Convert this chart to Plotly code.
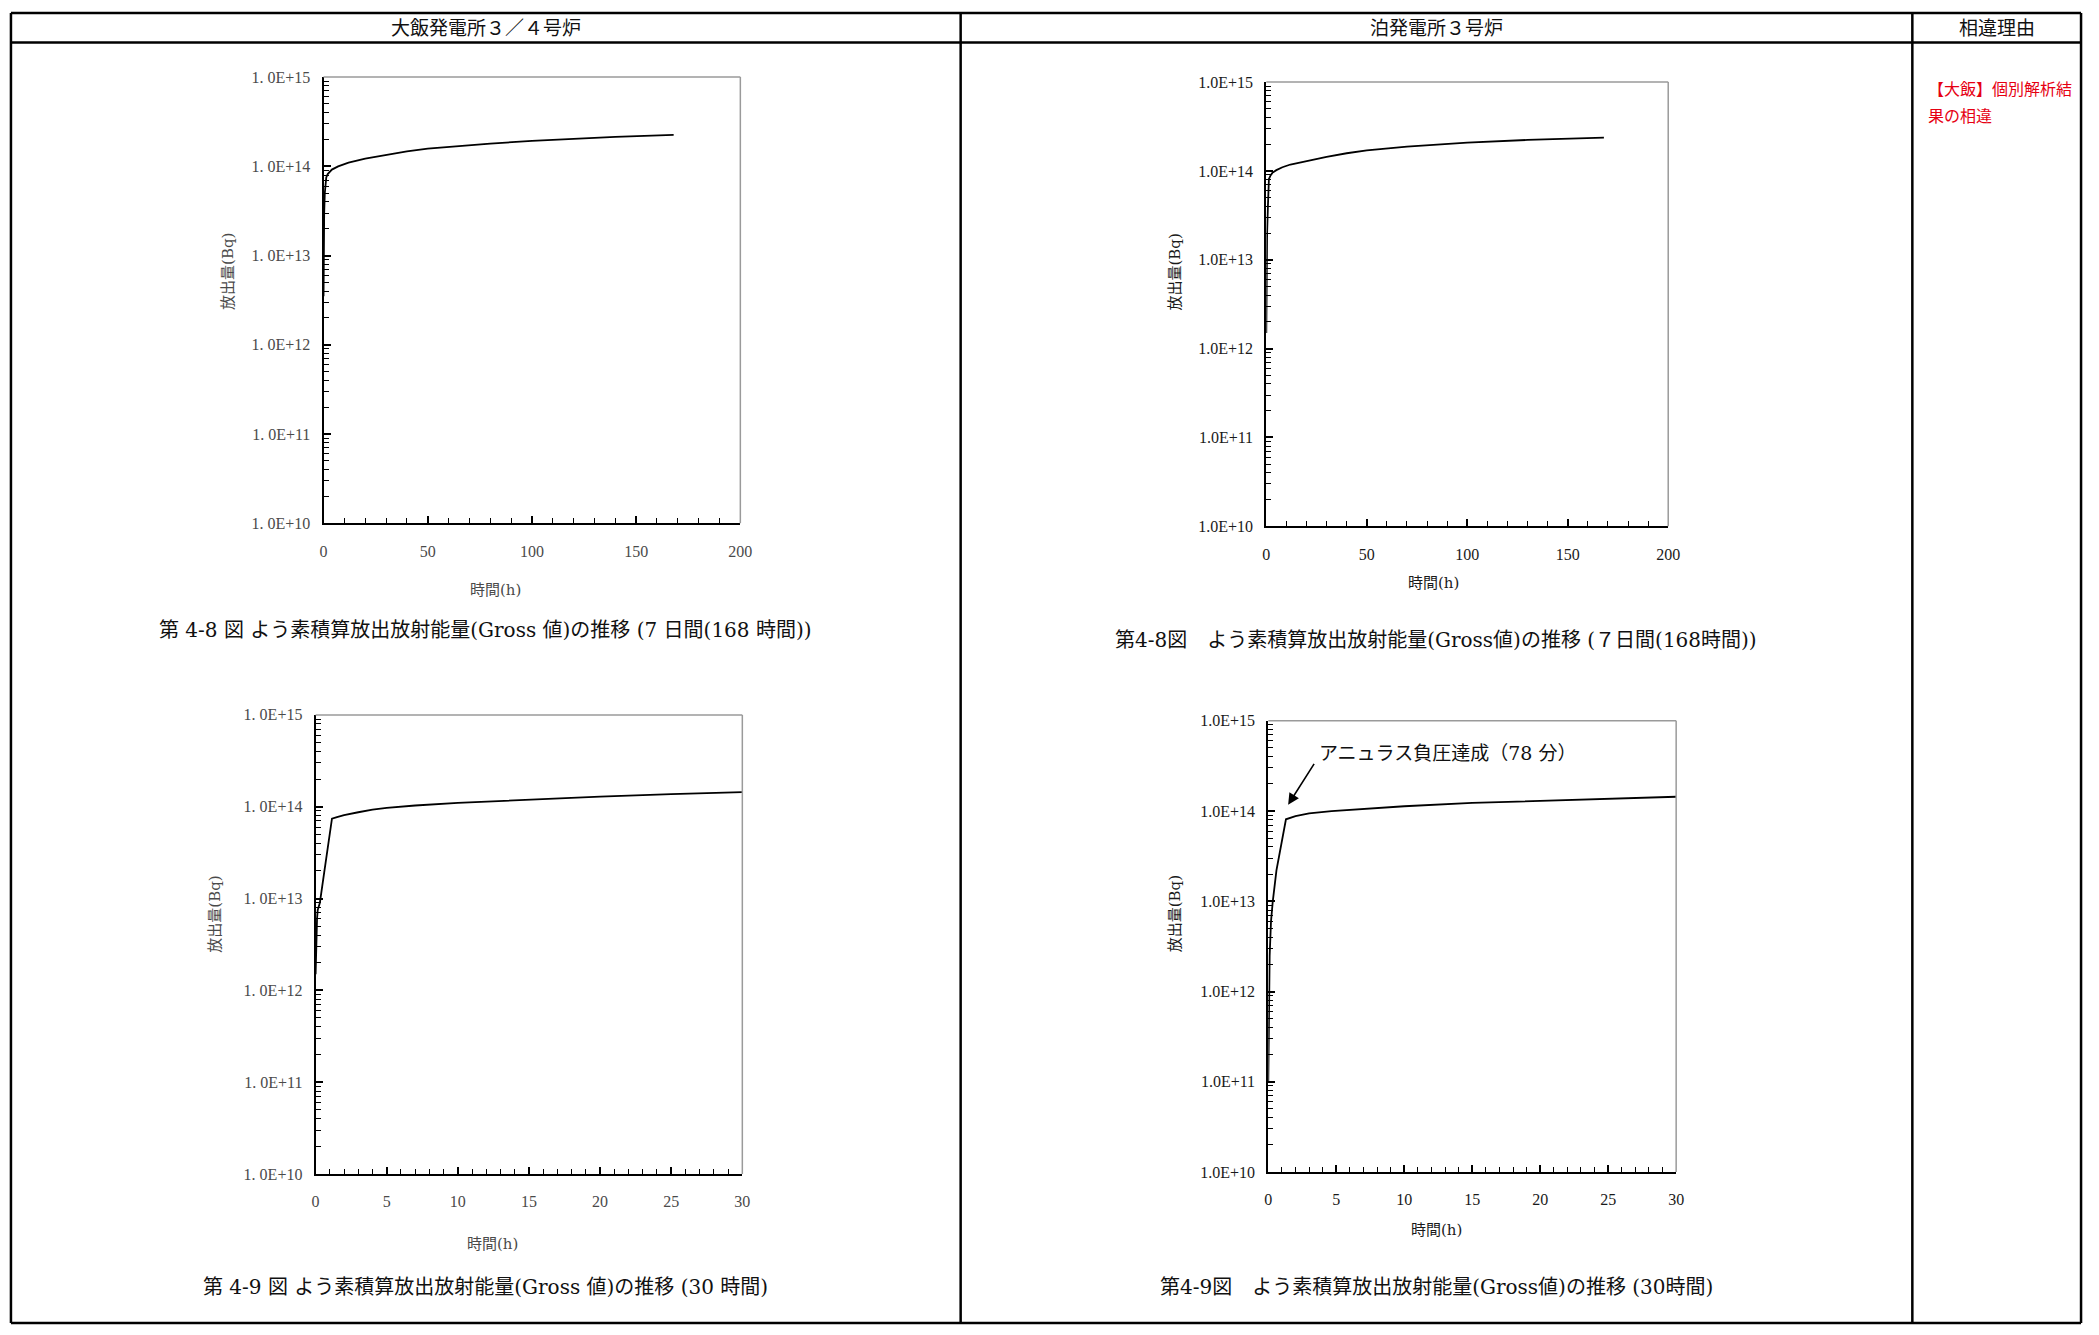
import plotly.graph_objects as go

W, H = 2099, 1335

# 大飯 3/4号炉 - 168時間
t_ohi_168 = [0, 0.05, 0.1, 0.3, 0.6, 1.0, 1.3, 2, 4, 7, 12, 20, 30, 40, 50, 65, 80, 100, 120, 140, 168]
q_ohi_168 = [3.5e12, 8e12, 1.5e13, 3e13, 5e13, 6.8e13, 7.5e13, 8.2e13, 9.2e13, 1.0e14, 1.1e14, 1.22e14,
             1.35e14, 1.47e14, 1.58e14, 1.7e14, 1.8e14, 1.93e14, 2.04e14, 2.14e14, 2.25e14]

# 泊 3号炉 - 168時間
t_tomari_168 = [0, 0.1, 0.2, 0.4, 0.8, 1.3, 2, 3, 5, 8, 12, 20, 30, 40, 50, 70, 100, 130, 168]
q_tomari_168 = [1.5e12, 4e12, 1e13, 2e13, 4e13, 8.1e13, 8.8e13, 9.5e13, 1.02e14, 1.1e14, 1.18e14, 1.3e14,
                1.44e14, 1.58e14, 1.7e14, 1.88e14, 2.08e14, 2.23e14, 2.37e14]

# 大飯 3/4号炉 - 30時間
t_ohi_30 = [0, 0.05, 0.1, 0.15, 0.3, 0.6, 0.9, 1.15, 1.5, 2, 3, 4, 5, 7, 10, 15, 20, 25, 30]
q_ohi_30 = [1.5e12, 4e12, 6e12, 7.5e12, 9e12, 1.9e13, 4e13, 7.4e13, 7.7e13, 8.1e13, 8.7e13, 9.3e13,
            9.7e13, 1.03e14, 1.1e14, 1.2e14, 1.29e14, 1.37e14, 1.44e14]

# 泊 3号炉 - 30時間
t_tomari_30 = [0, 0.05, 0.1, 0.2, 0.33, 0.6, 0.9, 1.3, 2, 3, 4.65, 7, 10, 15, 20, 25, 30]
q_tomari_30 = [1e11, 8e11, 2.5e12, 6e12, 1e13, 2.2e13, 4e13, 8.1e13, 8.8e13, 9.4e13, 1.0e14, 1.06e14,
               1.13e14, 1.23e14, 1.3e14, 1.37e14, 1.44e14]

headers = ["大飯発電所３／４号炉", "泊発電所３号炉", "相違理由"]
reason_lines = ["【大飯】個別解析結", "果の相違"]
captions = [
    "第 4-8 図 よう素積算放出放射能量(Gross 値)の推移 (7 日間(168 時間))",
    "第4-8図　よう素積算放出放射能量(Gross値)の推移 (７日間(168時間))",
    "第 4-9 図 よう素積算放出放射能量(Gross 値)の推移 (30 時間)",
    "第4-9図　よう素積算放出放射能量(Gross値)の推移 (30時間)",
]
note_text = "アニュラス負圧達成（78 分）"
y_ticks = [1e10, 1e11, 1e12, 1e13, 1e14, 1e15]
y_ticktext_ohi = ["1. 0E+10", "1. 0E+11", "1. 0E+12", "1. 0E+13", "1. 0E+14", "1. 0E+15"]
y_ticktext_tomari = ["1.0E+10", "1.0E+11", "1.0E+12", "1.0E+13", "1.0E+14", "1.0E+15"]
x_title = "時間(h)"
y_title = "放出量(Bq)"

JP = "DejaVu Serif, Noto Sans CJK JP"
SERIF = "Liberation Serif"


def px(x):
    return x / W


def py(y):
    return 1 - y / H


# table geometry (pixels)
left, right, top, hdr, bottom = 7, 2093, 5, 35, 1332
div1, div2 = 964, 1923
col_centers = [(left + div1) / 2, (div1 + div2) / 2, (div2 + right) / 2]

# panel boxes in pixels: (left, top, right, bottom)
panels = [
    dict(box=(322, 70, 742, 522), t=t_ohi_168, q=q_ohi_168, xmax=200, major=50, minor=10,
         col="#4a4a4a", ytext=y_ticktext_ohi),
    dict(box=(1272, 75, 1677, 525), t=t_tomari_168, q=q_tomari_168, xmax=200, major=50, minor=10,
         col="#1a1a1a", ytext=y_ticktext_tomari),
    dict(box=(314, 716, 744, 1181), t=t_ohi_30, q=q_ohi_30, xmax=30, major=5, minor=1,
         col="#4a4a4a", ytext=y_ticktext_ohi),
    dict(box=(1274, 722, 1685, 1179), t=t_tomari_30, q=q_tomari_30, xmax=30, major=5, minor=1,
         col="#1a1a1a", ytext=y_ticktext_tomari),
]

minor_y = [k * 10 ** d for d in range(10, 15) for k in range(2, 10)]

fig = go.Figure()
layout = {}
shapes = []
annotations = []

for i, p in enumerate(panels, start=1):
    l, t, r, b = p["box"]
    sfx = "" if i == 1 else str(i)
    fig.add_trace(go.Scatter(
        x=p["t"], y=p["q"], mode="lines",
        line=dict(color="black", width=1.8),
        xaxis="x" + sfx, yaxis="y" + sfx, showlegend=False, hoverinfo="skip",
    ))
    layout["xaxis" + sfx] = dict(
        domain=[px(l), px(r)], anchor="y" + sfx, range=[0, p["xmax"]],
        tickvals=list(range(0, p["xmax"] + 1, p["major"])),
        ticks="inside", ticklen=7, tickwidth=1.5, tickcolor="black",
        minor=dict(ticks="inside", ticklen=5, tickwidth=1.2, tickcolor="black", dtick=p["minor"]),
        showline=True, linecolor="black", linewidth=2, mirror=False,
        showgrid=False, zeroline=False, ticklabelstandoff=12,
        tickfont=dict(family=SERIF, size=16, color=p["col"]),
    )
    layout["yaxis" + sfx] = dict(
        domain=[py(b), py(t)], anchor="x" + sfx, type="log", range=[10, 15],
        tickvals=y_ticks, ticktext=p["ytext"],
        ticks="inside", ticklen=7, tickwidth=1.5, tickcolor="black",
        minor=dict(ticks="inside", ticklen=5, tickwidth=1.2, tickcolor="black", tickvals=minor_y),
        showline=True, linecolor="black", linewidth=2, mirror=False,
        showgrid=False, zeroline=False, ticklabelstandoff=8,
        tickfont=dict(family=SERIF, size=16, color=p["col"]),
    )
    # gray frame on top / right
    shapes.append(dict(type="line", xref="paper", yref="paper",
                       x0=px(l), x1=px(r), y0=py(t), y1=py(t), line=dict(color="#9a9a9a", width=1.5)))
    shapes.append(dict(type="line", xref="paper", yref="paper",
                       x0=px(r), x1=px(r), y0=py(t), y1=py(b), line=dict(color="#9a9a9a", width=1.5)))

# axis titles
x_title_pos = [(495, 590), (1440, 582), (492, 1252), (1444, 1238)]
y_title_pos = [(225, 267), (1180, 268), (213, 918), (1180, 918)]
for i, p in enumerate(panels):
    xx, yy = x_title_pos[i]
    annotations.append(dict(x=px(xx), y=py(yy), xref="paper", yref="paper", text=x_title,
                            xanchor="center", yanchor="middle", showarrow=False,
                            font=dict(family=JP, size=15, color=p["col"])))
    xx, yy = y_title_pos[i]
    annotations.append(dict(x=px(xx), y=py(yy), xref="paper", yref="paper", text=y_title, textangle=-90,
                            xanchor="center", yanchor="middle", showarrow=False,
                            font=dict(family=JP, size=15, color=p["col"])))

# captions, centred in their column
cap_y = [630, 640, 1296, 1296]
cap_x = [col_centers[0], col_centers[1], col_centers[0], col_centers[1]]
for xx, yy, c in zip(cap_x, cap_y, captions):
    annotations.append(dict(x=px(xx), y=py(yy), xref="paper", yref="paper", text=c,
                            xanchor="center", yanchor="middle", showarrow=False,
                            font=dict(family=JP, size=20, color="#111111")))

# table
line_kw = dict(color="black", width=2.5)
for y in (top, hdr, bottom):
    shapes.append(dict(type="line", xref="paper", yref="paper", x0=px(left), x1=px(right),
                       y0=py(y), y1=py(y), line=line_kw))
for x in (left, div1, div2, right):
    shapes.append(dict(type="line", xref="paper", yref="paper", x0=px(x), x1=px(x),
                       y0=py(top), y1=py(bottom), line=line_kw))

for xc, h in zip(col_centers, headers):
    annotations.append(dict(x=px(xc), y=py((top + hdr) / 2), xref="paper", yref="paper", text=h,
                            xanchor="center", yanchor="middle", showarrow=False,
                            font=dict(family=JP, size=19, color="#111111")))

for yy, txt in zip((83, 110), reason_lines):
    annotations.append(dict(x=px(div2 + 14), y=py(yy), xref="paper", yref="paper", text=txt,
                            xanchor="left", yanchor="middle", showarrow=False,
                            font=dict(family=JP, size=16, color="#e60012")))

# note on 泊 30h panel
annotations.append(dict(x=1.46, y=14.07, xref="x4", yref="y4", ax=3.44, ay=14.54, axref="x4", ayref="y4",
                        text="", showarrow=True, arrowhead=2, arrowsize=1.4, arrowwidth=1.6,
                        arrowcolor="black"))
annotations.append(dict(x=3.6, y=14.64, xref="x4", yref="y4", text=note_text,
                        xanchor="left", yanchor="middle", showarrow=False,
                        font=dict(family=JP, size=19, color="#111111")))

fig.update_layout(
    width=W, height=H, margin=dict(l=0, r=0, t=0, b=0),
    paper_bgcolor="white", plot_bgcolor="white",
    shapes=shapes, annotations=annotations, **layout,
)

fig.write_html("out.html", config={"displayModeBar": False},
               post_script="document.body.style.margin='0';")
